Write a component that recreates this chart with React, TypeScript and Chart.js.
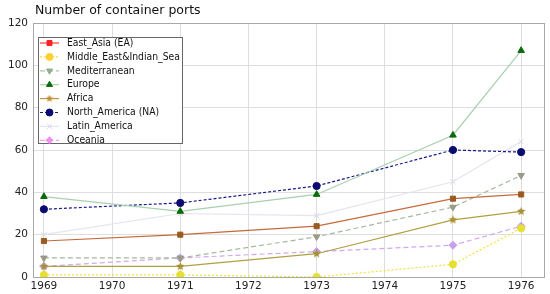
import React, { useEffect, useRef } from "react";
import { Chart, registerables } from "chart.js";
import { drawPoint } from "chart.js/helpers";

Chart.register(...registerables);

const title = "Number of container ports";
const years = [1969, 1971, 1973, 1975, 1976];
const xTicks = [1969, 1970, 1971, 1972, 1973, 1974, 1975, 1976];

const seriesNames = [
  "East_Asia (EA)",
  "Middle_East&Indian_Sea",
  "Mediterranean",
  "Europe",
  "Africa",
  "North_America (NA)",
  "Latin_America",
  "Oceania",
];

const eastAsia = [17, 20, 24, 37, 39];
const middleEast = [1, 1, 0, 6, 23];
const mediterranean = [9, 9, 19, 33, 48];
const europe = [38, 31, 39, 67, 107];
const africa = [5, 5, 11, 27, 31];
const northAmerica = [32, 35, 43, 60, 59];
const latinAmerica = [20, 30, 29, 45, 64];
const oceania = [5, 9, 12, 15, 24];

const seriesValues = [eastAsia, middleEast, mediterranean, europe, africa, northAmerica, latinAmerica, oceania];

function makeStar(color: string, size: number) {
  const c = document.createElement("canvas");
  c.width = size;
  c.height = size;
  const ctx = c.getContext("2d")!;
  const cx = size / 2, cy = size / 2;
  const R = size / 2, r = R * 0.45;
  ctx.beginPath();
  for (let i = 0; i < 10; i++) {
    const rad = i % 2 === 0 ? R : r;
    const a = -Math.PI / 2 + (i * Math.PI) / 5;
    const px = cx + rad * Math.cos(a), py = cy + rad * Math.sin(a);
    if (i === 0) ctx.moveTo(px, py); else ctx.lineTo(px, py);
  }
  ctx.closePath();
  ctx.fillStyle = color;
  ctx.fill();
  return c;
}

export default function App() {
  const ref = useRef<HTMLCanvasElement | null>(null);

  useEffect(() => {
    document.body.style.margin = "0";
    const styles = [
      { line: "#c8693a", point: "#9a5b22", legendLine: "#ff3b3b", legendPoint: "#ff2020", style: "rect", rot: 0, r: 3.6, dash: [] as number[] },
      { line: "#f0e040", point: "#e6e030", legendLine: "#ffd84a", legendPoint: "#ffd030", style: "circle", rot: 0, r: 3.6, dash: [2, 2] },
      { line: "#a8b8a0", point: "#9a9a88", legendLine: "#a8c8a8", legendPoint: "#90b090", style: "triangle", rot: 180, r: 3.8, dash: [5, 3] },
      { line: "#a8d0b0", point: "#0a6a0a", legendLine: "#a8d0b0", legendPoint: "#0a6a0a", style: "triangle", rot: 0, r: 3.8, dash: [] },
      { line: "#b0a040", point: "#a89030", legendLine: "#c89040", legendPoint: "#c09030", style: "star", rot: 0, r: 4, dash: [] },
      { line: "#1a1a8a", point: "#0a0a70", legendLine: "#1a1a8a", legendPoint: "#0a0a70", style: "circle", rot: 0, r: 3.6, dash: [3, 2] },
      { line: "#e4e4ec", point: "#d8d8e8", legendLine: "#e4e4ec", legendPoint: "#d8d8ee", style: "crossRot", rot: 0, r: 3.8, dash: [] },
      { line: "#d0a8f0", point: "#c8a0f0", legendLine: "#f0a8f0", legendPoint: "#f090f0", style: "rectRot", rot: 0, r: 4, dash: [5, 3] },
    ];

    const datasets = seriesNames.map((name, i) => {
      const s = styles[i];
      const ps: any = s.style === "star" ? makeStar(s.point, 9) : s.style;
      return {
        label: name,
        data: years.map((x, j) => ({ x, y: seriesValues[i][j] })),
        borderColor: s.line,
        backgroundColor: s.point,
        pointBackgroundColor: s.point,
        pointBorderColor: s.point,
        pointStyle: ps,
        pointRotation: s.rot,
        pointRadius: s.r,
        pointBorderWidth: 1,
        borderWidth: 1.2,
        borderDash: s.dash,
        tension: 0,
        fill: false,
      };
    });

    const frameAndTitle = {
      id: "frameAndTitle",
      beforeDatasetsDraw(chart: any) {
        const { ctx, chartArea } = chart;
        ctx.save();
        ctx.strokeStyle = "#a8a8a8";
        ctx.lineWidth = 1;
        ctx.strokeRect(chartArea.left + 0.5, chartArea.top + 0.5, chartArea.right - chartArea.left - 1, chartArea.bottom - chartArea.top);
        ctx.restore();
      },
      afterDraw(chart: any) {
        const { ctx, chartArea } = chart;
        ctx.save();
        ctx.fillStyle = "#111";
        ctx.font = "12.5px 'DejaVu Sans'";
        ctx.textBaseline = "middle";
        ctx.textAlign = "left";
        ctx.fillText(title, chartArea.left + 2, 11);

        // legend
        const bx = chartArea.left + 5, by = chartArea.top + 14, bw = 144, bh = 106;
        ctx.fillStyle = "#ffffff";
        ctx.fillRect(bx, by, bw, bh);
        ctx.strokeStyle = "#666";
        ctx.lineWidth = 1;
        ctx.strokeRect(bx + 0.5, by + 0.5, bw, bh);
        ctx.font = "10.5px 'DejaVu Sans Condensed', 'DejaVu Sans'";
        const textW = ctx.measureText(seriesNames[1]).width;
        const maxW = 113;
        const sx = textW > maxW ? maxW / textW : 1;
        for (let i = 0; i < seriesNames.length; i++) {
          const s = styles[i];
          const yy = by + 6 + i * 13.9;
          ctx.save();
          ctx.strokeStyle = s.legendLine;
          ctx.lineWidth = 1.2;
          ctx.setLineDash(s.dash);
          ctx.beginPath();
          ctx.moveTo(bx + 2, yy);
          ctx.lineTo(bx + 21, yy);
          ctx.stroke();
          ctx.restore();
          ctx.save();
          ctx.fillStyle = s.legendPoint;
          ctx.strokeStyle = s.legendPoint;
          ctx.lineWidth = 1;
          const ps: any = s.style === "star" ? makeStar(s.legendPoint, 8) : s.style;
          drawPoint(ctx, { pointStyle: ps, rotation: s.rot, radius: 3.5, borderWidth: 1 }, bx + 11.5, yy);
          ctx.restore();
          ctx.save();
          ctx.fillStyle = "#111";
          ctx.translate(bx + 29, yy);
          ctx.scale(sx, 1);
          ctx.fillText(seriesNames[i], 0, 0);
          ctx.restore();
        }
        ctx.restore();
      },
    };

    const chart = new Chart(ref.current!, {
      type: "line",
      data: { datasets: datasets as any },
      options: {
        animation: false,
        responsive: false,
        maintainAspectRatio: false,
        layout: { padding: { top: 23, right: 4, left: 0, bottom: 0 } },
        plugins: { legend: { display: false }, title: { display: false }, tooltip: { enabled: false } },
        scales: {
          x: {
            type: "linear",
            min: 1968.84,
            max: 1976.35,
            afterBuildTicks: (scale: any) => {
              scale.ticks = xTicks.map((v) => ({ value: v }));
            },
            afterFit: (scale: any) => {
              scale.height = 17;
            },
            grid: { color: "#dedede", drawTicks: false, lineWidth: 1 },
            border: { display: false },
            ticks: {
              color: "#222",
              font: { family: "DejaVu Sans", size: 10.5 },
              padding: 3,
              maxRotation: 0,
              callback: (v: any) => String(v),
            },
          },
          y: {
            min: 0,
            max: 120,
            afterFit: (scale: any) => {
              scale.width = 33;
            },
            grid: { color: "#dedede", drawTicks: false, lineWidth: 1 },
            border: { display: false },
            ticks: {
              stepSize: 20,
              color: "#222",
              font: { family: "DejaVu Sans", size: 10.5 },
              padding: 5,
            },
          },
        },
      },
      plugins: [frameAndTitle],
    });
    return () => chart.destroy();
  }, []);

  return (
    <div style={{ width: 550, height: 294 }}>
      <canvas ref={ref} width={550} height={294} style={{ display: "block" }} />
    </div>
  );
}
